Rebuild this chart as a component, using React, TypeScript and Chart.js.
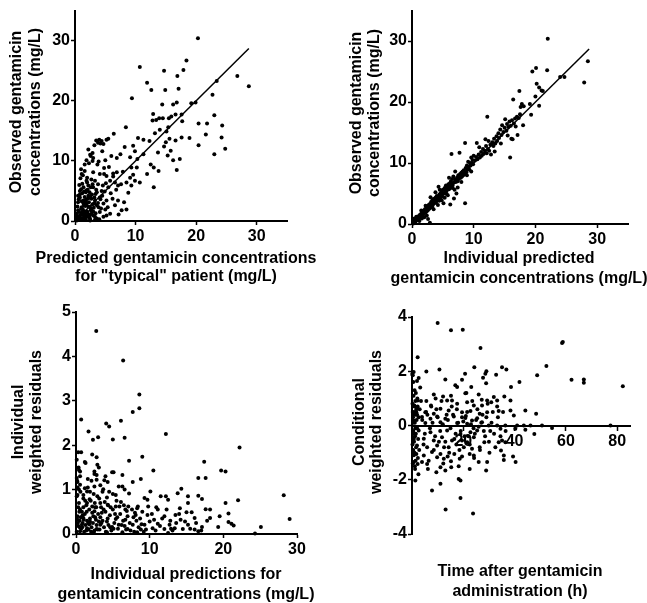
import React, { useEffect, useRef } from 'react';
import { Chart, registerables } from 'chart.js';

Chart.register(...registerables);

type Pt = [number, number];

// Panel A: observed vs population ("typical") predicted concentrations (mg/L)
const obsVsPopPred: Pt[] = [
  [20.3,30.4],[10.7,25.6],[14.7,25.0],[18.4,26.7],[16.9,24.1],[17.9,25.1],[11.9,23.0],[12.6,21.8],[14.9,21.8],[17.1,22.0],
  [9.4,20.4],[26.8,24.1],[28.7,22.4],[23.4,23.3],[22.7,21.0],[19.9,19.7],[19.2,19.6],[16.8,19.7],[16.2,19.4],[14.4,19.4],
  [20.4,16.2],[21.8,16.2],[23.0,17.6],[21.6,14.4],[24.3,15.9],[24.2,13.9],[20.4,12.6],[24.8,12.0],[23.0,11.1],[18.9,13.8],
  [17.6,13.9],[16.6,13.4],[15.6,13.7],[15.3,10.9],[16.2,10.1],[16.8,8.5],[17.3,10.3],[15.8,11.7],[14.7,12.4],[15.0,13.1],
  [13.7,11.4],[13.0,8.9],[13.8,8.3],[13.0,5.6],[11.9,7.8],[12.5,9.4],[11.3,11.1],[10.3,10.3],[10.4,13.8],[11.3,13.5],
  [12.3,13.3],[12.8,16.7],[13.4,16.8],[13.9,17.1],[14.5,17.1],[12.9,17.8],[15.4,15.6],[15.1,14.9],[14.0,15.2],[13.2,14.6],
  [15.5,17.1],[15.9,17.4],[16.6,17.7],[17.6,17.7],[17.7,16.6],[9.1,7.2],[8.5,6.4],[9.3,5.9],[9.9,6.7],[10.7,6.4],
  [9.6,7.7],[9.3,8.9],[10.2,8.9],[9.1,10.6],[9.9,11.6],[9.6,12.5],[8.2,12.3],[8.4,15.6],[7.5,11.1],[6.9,10.5],
  [6.0,10.8],[6.4,14.5],[5.2,13.5],[4.4,13.3],[3.8,13.0],[3.5,13.4],[4.0,13.5],[4.7,12.8],[5.5,13.7],[6.3,7.9],
  [6.9,8.1],[5.2,7.5],[5.8,6.7],[6.6,6.4],[7.1,5.9],[6.2,3.7],[7.1,3.4],[7.7,1.8],[8.5,1.9],[8.1,3.1],
  [5.2,0.9],[5.8,1.2],[4.7,0.7],[4.1,1.5],[3.0,10.5],[2.5,11.0],[2.2,11.9],[2.9,10.0],[1.6,9.4],[1.1,7.8],
  [1.0,8.6],[3.7,9.4],[4.1,7.8],[4.8,7.8],[4.6,5.9],[5.1,6.3],[5.5,5.6],[4.4,5.0],[3.6,4.8],[4.1,3.9],
  [3.3,3.4],[2.7,3.7],[3.6,2.6],[4.7,2.9],[5.2,3.4],[1.9,6.7],[2.2,5.9],[1.4,5.6],[0.8,5.0],[1.8,4.8],
  [2.2,4.2],[0.8,3.9],[1.4,3.4],[0.5,3.1],[1.9,2.9],[1.1,2.3],[2.5,2.3],[0.5,1.8],[1.6,1.6],[2.7,1.2],
  [0.8,0.9],[2.0,0.7],[3.3,0.7],[0.3,0.4],[1.4,0.4],[2.5,0.3],[1.1,1.4],[0.2,1.2],[1.9,3.6],[3.0,5.6],
  [3.3,6.7],[3.8,6.1],[0.3,0.1],[0.5,0.6],[0.7,0.2],[0.9,1.0],[1.2,0.5],[1.3,1.9],[1.5,0.9],[1.7,2.5],
  [1.8,0.2],[2.1,1.3],[2.3,3.1],[2.4,0.6],[2.6,1.8],[2.8,4.4],[3.0,0.9],[3.1,2.2],[3.4,1.3],[3.6,0.4],
  [3.8,3.0],[0.4,2.4],[0.6,3.6],[0.8,4.4],[1.0,5.3],[1.2,6.2],[1.4,2.9],[1.6,4.0],[1.9,5.1],[2.0,6.4],
  [2.2,3.8],[2.4,4.8],[2.6,5.6],[2.9,2.8],[3.2,3.9],[3.5,5.2],[0.2,0.9],[0.6,1.5],[1.1,3.3],[1.7,1.1],
  [2.5,0.1],[3.3,0.2],[4.0,0.3],[4.3,2.1],[4.5,4.2],[0.9,7.1],[1.3,7.6],[1.6,8.3],[2.0,7.2],[2.7,6.9],
  [3.0,8.1],[2.3,9.6],[1.9,10.1],[2.9,11.3],[2.6,10.8],[3.2,12.6],[4.2,12.9],[4.5,11.6],[5.0,10.1],[5.6,9.0],
  [4.8,8.8],[3.9,9.9],[6.3,7.4],[7.6,6.1],[8.8,4.7],[5.9,4.6],[6.6,2.6],[7.2,1.1],[5.4,2.3],[4.9,4.9],
  [6.8,5.2],[7.9,8.2],[0.4,0.7],[0.6,0.2],[0.9,0.4],[1.0,2.0],[1.3,1.1],[1.5,2.6],[1.7,0.6],[2.0,1.6],
  [2.2,2.4],[2.4,1.0],[2.7,2.0],[3.0,1.6],[3.2,2.9],[1.2,4.6],[1.5,4.9],[2.1,5.2],[2.5,4.1],[2.9,6.1],
  [0.7,6.0],[3.4,4.5],[0.5,4.2],[1.8,3.2],[3.9,2.3],[4.2,3.6],[5.0,1.9]
];

// Panel B: observed vs individual predicted concentrations (mg/L)
const obsVsIndPred: Pt[] = [
  [0.2,0.1],[0.3,0.4],[0.5,0.3],[0.6,0.7],[0.8,0.6],[0.9,1.0],[1.0,0.8],[1.1,1.3],[1.2,1.0],[1.3,1.5],
  [1.4,1.2],[1.5,1.7],[1.6,1.4],[1.7,1.9],[1.8,1.5],[1.9,2.2],[2.0,1.8],[2.1,2.4],[2.2,1.9],[2.3,2.6],
  [2.4,2.1],[2.5,2.9],[2.6,2.3],[2.7,3.1],[2.8,2.5],[2.9,3.3],[3.0,2.7],[0.4,0.9],[0.7,1.2],[1.2,0.5],
  [1.6,0.9],[2.0,1.1],[2.4,1.4],[2.6,0.8],[1.5,2.2],[2.2,3.0],[2.9,0.2],[3.1,3.6],[3.2,3.0],[3.3,3.9],
  [3.4,3.2],[3.5,4.1],[3.6,3.4],[3.7,3.8],[3.8,4.3],[3.9,3.5],[4.0,4.6],[4.1,3.9],[4.2,4.2],[4.3,6.1],
  [4.4,4.8],[4.5,4.1],[4.6,5.0],[4.7,4.4],[4.8,5.3],[4.9,4.6],[5.0,5.6],[5.1,3.4],[5.2,5.0],[5.3,5.9],
  [5.4,5.2],[5.5,6.3],[5.6,5.4],[5.7,6.0],[5.8,4.7],[5.9,6.5],[6.0,5.7],[3.5,2.4],[4.2,3.1],[4.8,3.9],
  [3.0,4.4],[3.8,5.2],[4.5,5.6],[5.3,4.3],[6.2,3.2],[6.1,6.6],[6.2,5.9],[6.3,7.0],[6.4,6.2],[6.4,11.5],
  [6.5,7.4],[6.6,6.4],[6.7,7.8],[6.8,6.8],[6.9,5.6],[7.0,7.3],[7.1,6.9],[7.2,5.0],[7.3,7.6],[7.4,7.0],
  [7.5,8.0],[7.6,7.4],[7.7,11.7],[7.8,8.2],[7.9,7.6],[8.0,8.4],[8.1,7.8],[8.2,8.6],[8.3,8.0],[8.4,8.8],
  [8.5,8.3],[8.6,13.3],[8.6,3.4],[8.7,9.2],[8.8,8.5],[8.9,9.6],[9.0,9.0],[9.1,10.2],[9.2,9.4],[9.3,8.9],
  [9.4,10.0],[9.5,9.6],[9.6,10.9],[9.7,10.0],[9.8,10.5],[9.9,9.8],[10.0,11.2],[6.8,4.2],[7.4,6.0],[8.0,6.9],
  [7.0,8.6],[6.0,7.6],[8.9,8.0],[9.6,8.6],[10.2,10.4],[10.4,11.0],[10.5,13.3],[10.6,10.6],[10.8,11.4],[11.0,10.9],
  [11.2,11.8],[11.3,11.2],[11.5,12.3],[11.6,11.5],[11.8,12.0],[12.0,12.8],[12.1,11.6],[12.2,17.6],[12.3,12.3],[12.4,13.6],
  [12.5,12.0],[12.7,13.0],[12.8,11.4],[13.0,13.4],[13.2,12.8],[13.3,14.0],[13.5,13.2],[13.7,14.4],[13.8,13.6],[14.0,14.9],
  [14.1,14.1],[14.3,15.5],[14.5,14.6],[14.6,16.2],[14.8,15.1],[15.0,15.8],[15.1,17.2],[15.3,15.3],[15.4,16.4],[15.6,15.9],
  [15.8,16.8],[15.9,10.9],[16.0,16.1],[10.9,12.6],[11.9,13.9],[13.4,11.9],[14.4,13.2],[15.5,14.5],[16.1,14.0],[16.2,17.0],
  [16.3,13.9],[16.4,20.4],[16.5,16.5],[16.7,17.3],[16.8,16.0],[17.0,17.6],[17.1,14.6],[17.3,17.4],[17.4,21.8],[17.5,18.0],
  [17.6,19.2],[17.8,19.7],[18.0,16.2],[18.1,19.3],[19.1,19.7],[19.3,17.9],[19.5,25.0],[20.0,20.9],[20.1,25.6],[20.2,23.0],
  [20.6,22.4],[20.6,19.4],[21.0,21.9],[21.2,21.8],[21.9,25.2],[22.0,30.4],[24.0,24.1],[24.7,24.1],[27.9,23.2],[28.5,26.7],
  [0.5,0.5],[1.0,1.1],[1.5,1.5],[2.0,2.1],[2.5,2.5],[3.0,3.2],[3.5,3.6],[4.0,4.1],[4.5,4.6],[5.0,5.1],
  [5.5,5.5],[6.0,6.2],[6.5,6.6],[7.0,7.0],[7.5,7.6],[8.0,8.0],[3.3,2.8],[4.4,3.8],[5.6,4.9],[6.6,5.9]
];

// Line of identity drawn in panels A and B
const identityLine: Pt[] = [[0, 0], [28.7, 28.7]];

// Panel C: individual weighted residuals vs individual predictions
const iwresVsIndPred: Pt[] = [
  [2.75,4.57],[6.4,3.91],[8.6,3.14],[8.6,2.83],[7.7,2.75],[0.7,2.58],[6.1,2.55],[4.1,2.49],[4.5,2.42],[1.7,2.31],
  [2.3,2.12],[3.0,2.18],[5.0,2.13],[6.6,2.17],[12.2,2.25],[22.2,1.95],[0.3,1.84],[0.7,1.84],[2.2,1.79],[2.8,1.73],
  [9.0,1.74],[7.2,1.65],[17.4,1.63],[0.1,1.67],[1.2,1.62],[2.9,1.56],[3.1,1.5],[0.4,1.44],[0.55,1.41],[2.5,1.41],
  [10.5,1.43],[19.7,1.43],[20.3,1.41],[4.9,1.39],[5.1,1.39],[2.8,1.33],[6.3,1.33],[0.1,1.26],[1.6,1.24],[2.8,1.22],
  [8.8,1.24],[17.6,1.26],[16.6,1.26],[3.85,1.21],[4.3,1.17],[7.7,1.17],[0.2,1.17],[0.55,1.11],[5.8,1.07],[6.3,1.07],
  [2.5,1.07],[1.2,1.03],[3.7,1.01],[14.3,1.02],[6.6,1.0],[0.4,1.0],[10.1,0.96],[7.2,0.91],[5.4,0.88],[1.5,0.96],
  [0.2,0.88],[1.0,0.88],[13.8,0.92],[11.5,0.85],[12.2,0.85],[15.2,0.85],[16.6,0.86],[28.2,0.87],[9.3,0.81],[9.7,0.77],
  [12.5,0.77],[22.0,0.76],[17.1,0.79],[15.2,0.70],[20.3,0.70],[1.5,0.70],[3.3,0.70],[4.3,0.66],[5.4,0.62],[8.3,0.58],
  [11.1,0.55],[14.1,0.58],[17.6,0.56],[18.2,0.55],[6.7,0.55],[0.55,0.55],[2.5,0.51],[15.0,0.49],[15.7,0.49],[20.7,0.46],
  [8.1,0.43],[9.7,0.43],[12.0,0.40],[13.5,0.43],[19.5,0.40],[18.2,0.36],[29.0,0.34],[1.0,0.36],[3.3,0.38],[5.4,0.34],
  [6.7,0.32],[10.6,0.32],[14.2,0.32],[16.1,0.36],[0.2,0.32],[1.9,0.28],[4.2,0.28],[20.7,0.27],[21.1,0.23],[21.4,0.19],
  [19.3,0.16],[25.1,0.16],[17.1,0.16],[15.2,0.21],[12.7,0.21],[11.1,0.23],[9.3,0.21],[7.7,0.21],[5.8,0.21],[3.3,0.21],
  [0.8,0.21],[1.5,0.13],[2.8,0.11],[4.9,0.16],[7.0,0.11],[8.8,0.10],[10.4,0.13],[12.0,0.11],[13.4,0.13],[14.5,0.11],
  [16.1,0.10],[24.3,0.01],[0.55,0.06],[2.4,0.04],[4.2,0.04],[6.3,0.04],[8.3,0.04],[12.5,0.02],[16.6,0.06],[0.1,0.05],
  [0.2,0.4],[0.3,0.18],[0.4,0.7],[0.5,0.3],[0.6,0.95],[0.7,0.12],[0.8,0.5],[0.9,0.25],[1.0,0.8],[1.1,0.05],
  [1.2,0.45],[1.3,0.2],[1.4,0.65],[1.5,0.3],[1.6,1.05],[1.7,0.1],[1.8,0.55],[1.9,0.35],[2.0,0.75],[2.1,0.15],
  [2.2,0.48],[2.3,0.25],[2.4,0.9],[2.5,0.08],[2.6,0.6],[2.7,0.32],[2.8,0.2],[2.9,0.85],[3.0,0.45],[3.2,0.1],
  [3.4,0.6],[3.6,0.3],[3.8,0.15],[4.0,0.5],[4.2,0.82],[4.4,0.2],[4.6,0.42],[4.8,0.08],[5.0,0.55],[5.2,0.25],
  [5.5,0.75],[5.7,0.12],[6.0,0.45],[6.2,0.2],[6.5,0.65],[6.8,0.1],[7.0,0.4],[7.3,0.25],[7.6,0.55],[7.9,0.05],
  [8.2,0.3],[8.5,0.15],[9.0,0.5],[9.5,0.1],[10.0,0.28],[10.8,0.08],[11.4,0.18],[12.8,0.3],[13.1,0.08],[0.15,1.2],
  [0.35,1.5],[0.55,1.3],[1.3,1.6],[2.1,1.2],[3.3,1.1],[4.0,1.3],[1.0,0.6],[0.3,0.6],[0.1,0.85],[0.2,1.05],
  [3.6,0.95],[4.5,0.95],[5.0,0.9],[1.9,0.95],[2.5,1.35],[0.5,0.15],[0.9,0.42],[1.4,0.08],[1.8,0.22],[2.2,0.62],
  [2.6,0.38],[3.1,0.28],[3.5,0.48],[3.9,0.72],[4.3,0.35],[4.7,0.6],[5.1,0.12],[5.6,0.38],[5.9,0.62],[6.4,0.3],
  [6.9,0.52],[7.4,0.08],[7.8,0.38],[8.4,0.62],[8.9,0.22],[9.2,0.05],[9.8,0.62],[10.3,0.45],[10.9,0.6],[11.7,0.35],
  [12.3,0.55],[12.9,0.12],[13.6,0.25],[14.0,0.45],[14.8,0.28],[15.5,0.12],[16.3,0.25],[17.0,0.08],[17.8,0.3],[0.25,0.25],
  [0.45,0.5],[0.65,0.38],[0.85,0.15],[1.05,0.32],[1.25,0.75],[1.45,0.5],[1.65,0.25],[1.85,0.78],[2.05,0.05],[2.35,0.4],
  [2.55,0.7],[2.75,0.6],[2.95,0.1],[3.15,0.8],[3.45,0.25],[3.75,0.55],[4.05,0.05],[4.35,0.65],[4.65,0.15],[5.3,0.45],
  [6.1,0.72],[6.6,0.18],[7.1,0.62],[8.0,0.48],[8.7,0.35]
];

// Panel D: conditional weighted residuals vs time after dose (h)
const cwresVsTime: Pt[] = [
  [10.0,3.78],[15.2,3.51],[19.8,3.53],[26.7,2.86],[2.2,2.52],[0.65,1.97],[5.6,1.99],[10.7,2.06],[24.3,2.15],[20.7,1.91],
  [29.0,2.0],[35.1,2.15],[36.8,2.06],[13.0,1.70],[2.6,1.75],[1.95,1.64],[19.5,1.69],[16.9,1.48],[17.6,1.42],[28.6,1.91],
  [27.7,1.76],[28.9,1.56],[32.8,1.87],[38.6,1.42],[41.9,1.60],[48.8,1.85],[52.4,2.19],[58.8,3.08],[58.5,3.04],[62.2,1.69],
  [67.0,1.70],[67.0,1.58],[82.2,1.45],[23.1,1.42],[20.8,1.19],[8.5,1.14],[12.1,1.07],[13.7,0.92],[26.0,1.14],[29.3,0.92],
  [31.9,1.05],[33.2,0.92],[36.0,1.07],[38.4,0.92],[30.9,0.86],[27.3,0.74],[24.1,0.74],[21.5,0.86],[17.6,0.80],[15.6,0.92],
  [7.4,0.74],[5.6,0.90],[2.2,0.92],[0.9,0.74],[1.7,0.49],[5.2,0.49],[8.5,0.43],[11.1,0.62],[14.3,0.55],[19.5,0.49],
  [22.8,0.53],[26.4,0.43],[29.3,0.49],[33.8,0.53],[38.4,0.55],[44.2,0.55],[48.4,0.43],[39.7,0.37],[3.9,0.31],[7.2,0.25],
  [9.8,0.33],[13.0,0.25],[16.3,0.33],[20.8,0.28],[23.4,0.18],[25.4,0.27],[27.3,0.12],[0.65,0.18],[5.2,0.09],[11.1,0.12],
  [17.6,0.09],[21.5,0.06],[29.9,0],[33.2,0],[36.4,0],[41.0,0],[43.6,0],[46.2,0],[50.7,0],[54.6,-0.09],
  [77.4,0],[47.7,-0.31],[44.2,-0.16],[40.3,-0.12],[34.5,-0.12],[2.6,-0.18],[7.2,-0.25],[13.7,-0.18],[18.9,-0.31],[22.8,-0.25],
  [25.4,-0.18],[0.65,-0.43],[4.6,-0.49],[8.5,-0.55],[11.7,-0.43],[15.6,-0.55],[19.5,-0.55],[21.5,-0.62],[24.1,-0.43],[28.2,-0.62],
  [33.8,-0.62],[35.1,-0.55],[36.4,-0.62],[1.95,-0.74],[5.9,-0.80],[9.8,-0.74],[14.3,-0.80],[17.3,-0.70],[20.2,-0.80],[23.4,-0.86],
  [26.4,-0.80],[1.7,-1.05],[4.6,-1.11],[7.8,-0.98],[11.1,-1.05],[13.9,-1.14],[16.5,-1.05],[19.5,-1.14],[22.5,-1.05],[24.1,-1.11],
  [34.7,-0.92],[35.8,-1.11],[39.4,-1.14],[0.65,-1.35],[2.2,-1.42],[3.9,-1.35],[5.9,-1.42],[9.8,-1.17],[12.4,-1.23],[15.2,-1.32],
  [18.6,-1.23],[26.0,-1.35],[29.3,-1.35],[35.8,-1.27],[40.4,-1.35],[11.1,-1.54],[9.5,-1.72],[13.0,-1.66],[15.3,-1.54],[22.5,-1.60],
  [28.9,-1.66],[18.2,-1.97],[18.9,-2.03],[11.1,-2.15],[1.3,-2.03],[7.8,-2.40],[18.9,-2.67],[13.1,-3.10],[23.8,-3.24],[0.2,0.8],
  [0.4,0.3],[0.5,-0.2],[0.6,1.1],[0.8,-0.6],[0.9,0.5],[1.0,-1.0],[1.1,0.1],[1.2,-0.4],[1.3,0.9],[1.4,-1.3],
  [1.5,0.4],[1.6,-0.8],[1.8,0.2],[2.0,-0.1],[2.2,0.7],[2.4,-0.5],[2.6,0.3],[2.8,-0.9],[3.0,0.6],[0.3,-1.4],
  [0.5,1.6],[0.7,-1.1],[1.0,1.3],[1.2,-1.6],[0.4,0.1],[0.9,-0.3],[1.7,0.6],[2.3,-1.2],[0.2,-0.7],[0.6,0.4],
  [1.3,-0.1],[2.1,1.0],[0.1,1.9],[0.3,1.85],[4.0,0.2],[5.0,-0.3],[6.0,0.4],[7.0,-0.1],[8.0,0.1],[9.0,-0.4],
  [10.0,0.3],[11.0,-0.2],[12.0,0.05],[13.0,-0.6],[14.0,0.2],[15.0,-0.1],[16.0,0.4],[17.0,-0.3],[18.0,0.1],[19.0,-0.2],
  [20.0,0.15],[21.0,0.35],[22.0,-0.4],[23.0,0.05],[24.0,-0.1],[25.0,0.2],[26.0,-0.05],[27.0,0.1],[28.0,-0.2],[29.0,0.3],
  [30.0,-0.6],[31.0,0.1],[32.0,-0.3],[1.5,1.2],[2.5,-1.8],[3.5,0.9],[4.5,-0.7],[5.5,0.5],[6.5,-1.3],[7.5,0.7],
  [8.5,-0.9],[9.5,0.6],[10.5,-0.6],[11.5,0.9],[12.5,-0.8],[13.5,0.4],[14.5,-1.0],[15.5,0.7],[16.5,-0.5],[17.5,0.6],
  [18.5,-0.9],[19.5,0.3],[20.5,-0.4],[21.5,0.5],[22.5,-0.7],[23.5,0.9],[24.5,-0.3],[25.5,0.6],[26.5,-0.9],[27.5,0.4],
  [28.5,-0.4],[29.5,0.8],[30.5,-0.2],[31.5,0.5],[32.5,-0.8],[33.5,0.3],[34.5,-0.4],[35.5,0.5],[36.5,-0.2],[3.2,1.4],
  [6.2,-1.6],[9.2,1.0],[12.2,-1.4],[15.2,1.1],[18.2,-1.5],[21.2,1.2],[24.2,-1.2],[27.2,0.95],[30.2,-1.0],[33.2,0.7],
  [0.5,-0.9],[1.0,0.7],[1.5,-0.3],[2.0,0.4],[0.3,0.5],[0.7,-0.5],[1.1,-1.5],[0.4,-1.0]
];

const concTicks = [0, 10, 20, 30];
const iwresXTicks = [0, 10, 20, 30];
const iwresYTicks = [0, 1, 2, 3, 4, 5];
const cwresYTicks = [-4, -2, 0, 2, 4];
const timeTicks = [20, 40, 60, 80];

const titleA_y = ['Observed gentamicin', 'concentrations (mg/L)'];
const titleA_x = ['Predicted gentamicin concentrations', 'for "typical" patient (mg/L)'];
const titleB_y = ['Observed gentamicin', 'concentrations (mg/L)'];
const titleB_x = ['Individual predicted', 'gentamicin concentrations (mg/L)'];
const titleC_y = ['Individual', 'weighted residuals'];
const titleC_x = ['Individual predictions for', 'gentamicin concentrations (mg/L)'];
const titleD_y = ['Conditional', 'weighted residuals'];
const titleD_x = ['Time after gentamicin', 'administration (h)'];

const FONT = '"Liberation Sans", Arial, Helvetica, sans-serif';
const tickFont = { family: FONT, size: 16, weight: 'bold' as const };
const TITLE_FONT = `bold 16px ${FONT}`;

interface PanelSpec {
  left: number; top: number; width: number; height: number;
  points: Pt[]; line?: Pt[];
  xMin: number; xMax: number; xTicks: number[];
  yMin: number; yMax: number; yTicks: number[];
  xTitle: string[]; yTitle: string[];
  yAxisWidth: number; xAxisHeight: number;
  padTop: number; padRight: number;
  xTitleX: number; xTitleY: number; xTitleGap: number;
  yTitleX: number; yTitleY: number; yTitleGap: number;
  centerX?: boolean;
}

const gridOpts = {
  display: true, drawOnChartArea: false, drawTicks: true,
  tickLength: 4, tickWidth: 1.5, tickColor: '#000',
};
const borderOpts = { display: true, color: '#000', width: 2 };

function buildConfig(p: PanelSpec): any {
  const datasets: any[] = [
    {
      data: p.points.map(([x, y]) => ({ x, y })),
      pointRadius: 2, pointBackgroundColor: '#000', pointBorderWidth: 0,
      showLine: false, clip: false,
    },
  ];
  if (p.line) {
    datasets.push({
      data: p.line.map(([x, y]) => ({ x, y })),
      showLine: true, pointRadius: 0, borderColor: '#000', borderWidth: 1.5, fill: false, clip: false,
    });
  }
  const titlesPlugin = {
    id: 'axisTitles',
    afterDraw(chart: any) {
      const ctx = chart.ctx as CanvasRenderingContext2D;
      ctx.save();
      ctx.fillStyle = '#000';
      ctx.font = TITLE_FONT;
      ctx.textAlign = 'center';
      ctx.textBaseline = 'middle';
      p.xTitle.forEach((t, i) => ctx.fillText(t, p.xTitleX, p.xTitleY + i * p.xTitleGap));
      ctx.translate(p.yTitleX, p.yTitleY);
      ctx.rotate(-Math.PI / 2);
      p.yTitle.forEach((t, i) => ctx.fillText(t, 0, i * p.yTitleGap));
      ctx.restore();
    },
  };
  const scales: any = {
    x: {
      type: 'linear', min: p.xMin, max: p.xMax,
      position: p.centerX ? { y: 0 } : 'bottom',
      afterBuildTicks: (s: any) => { s.ticks = p.xTicks.map((v) => ({ value: v })); },
      afterFit: (s: any) => { s.height = p.centerX ? 0 : p.xAxisHeight; },
      ticks: { color: '#000', font: tickFont, padding: 2, maxRotation: 0, autoSkip: false },
      grid: gridOpts, border: borderOpts,
      title: { display: false },
    },
    y: {
      type: 'linear', min: p.yMin, max: p.yMax, position: 'left',
      afterBuildTicks: (s: any) => { s.ticks = p.yTicks.map((v) => ({ value: v })); },
      afterFit: (s: any) => { s.width = p.yAxisWidth; },
      ticks: { color: '#000', font: tickFont, padding: 1 },
      grid: gridOpts, border: borderOpts,
      title: { display: false },
    },
  };
  return {
    type: 'scatter',
    data: { datasets },
    plugins: [titlesPlugin],
    options: {
      responsive: false, animation: false, devicePixelRatio: 1,
      layout: { padding: { left: 0, top: p.padTop, right: p.padRight, bottom: p.centerX ? p.xAxisHeight : 0 } },
      plugins: { legend: { display: false }, tooltip: { enabled: false }, title: { display: false } },
      scales,
    },
  };
}

function Panel({ spec }: { spec: PanelSpec }) {
  const ref = useRef<HTMLCanvasElement | null>(null);
  useEffect(() => {
    if (!ref.current) return;
    const chart = new Chart(ref.current, buildConfig(spec));
    return () => chart.destroy();
  }, [spec]);
  return (
    <canvas
      ref={ref}
      width={spec.width}
      height={spec.height}
      style={{ position: 'absolute', left: spec.left, top: spec.top, width: spec.width, height: spec.height }}
    />
  );
}

const panels: PanelSpec[] = [
  {
    left: 0, top: 0, width: 323, height: 290,
    points: obsVsPopPred, line: identityLine,
    xMin: 0, xMax: 35, xTicks: concTicks, yMin: 0, yMax: 35, yTicks: concTicks,
    xTitle: titleA_x, yTitle: titleA_y,
    yAxisWidth: 75, xAxisHeight: 69, padTop: 8, padRight: 36,
    xTitleX: 176, xTitleY: 258.5, xTitleGap: 18.5,
    yTitleX: 17, yTitleY: 112, yTitleGap: 18.5,
  },
  {
    left: 323, top: 0, width: 324, height: 290,
    points: obsVsIndPred, line: identityLine,
    xMin: 0, xMax: 35, xTicks: concTicks, yMin: 0, yMax: 35, yTicks: concTicks,
    xTitle: titleB_x, yTitle: titleB_y,
    yAxisWidth: 89, xAxisHeight: 66, padTop: 8.5, padRight: 19,
    xTitleX: 196, xTitleY: 259, xTitleGap: 19.5,
    yTitleX: 34, yTitleY: 113, yTitleGap: 18,
  },
  {
    left: 0, top: 290, width: 323, height: 313,
    points: iwresVsIndPred,
    xMin: 0, xMax: 30, xTicks: iwresXTicks, yMin: 0, yMax: 5, yTicks: iwresYTicks,
    xTitle: titleC_x, yTitle: titleC_y,
    yAxisWidth: 76, xAxisHeight: 69, padTop: 22, padRight: 26,
    xTitleX: 186, xTitleY: 285, xTitleGap: 20,
    yTitleX: 18.5, yTitleY: 132, yTitleGap: 18.5,
  },
  {
    left: 323, top: 290, width: 324, height: 313,
    points: cwresVsTime,
    xMin: 0, xMax: 85, xTicks: timeTicks, yMin: -4, yMax: 4, yTicks: cwresYTicks,
    xTitle: titleD_x, yTitle: titleD_y,
    yAxisWidth: 89, xAxisHeight: 69, padTop: 27, padRight: 17,
    xTitleX: 197, xTitleY: 282, xTitleGap: 20,
    yTitleX: 37, yTitleY: 132, yTitleGap: 17,
    centerX: true,
  },
];

export default function App() {
  return (
    <div style={{ position: 'absolute', left: 0, top: 0, width: 647, height: 603, background: '#fff' }}>
      {panels.map((p, i) => (
        <Panel key={i} spec={p} />
      ))}
    </div>
  );
}
